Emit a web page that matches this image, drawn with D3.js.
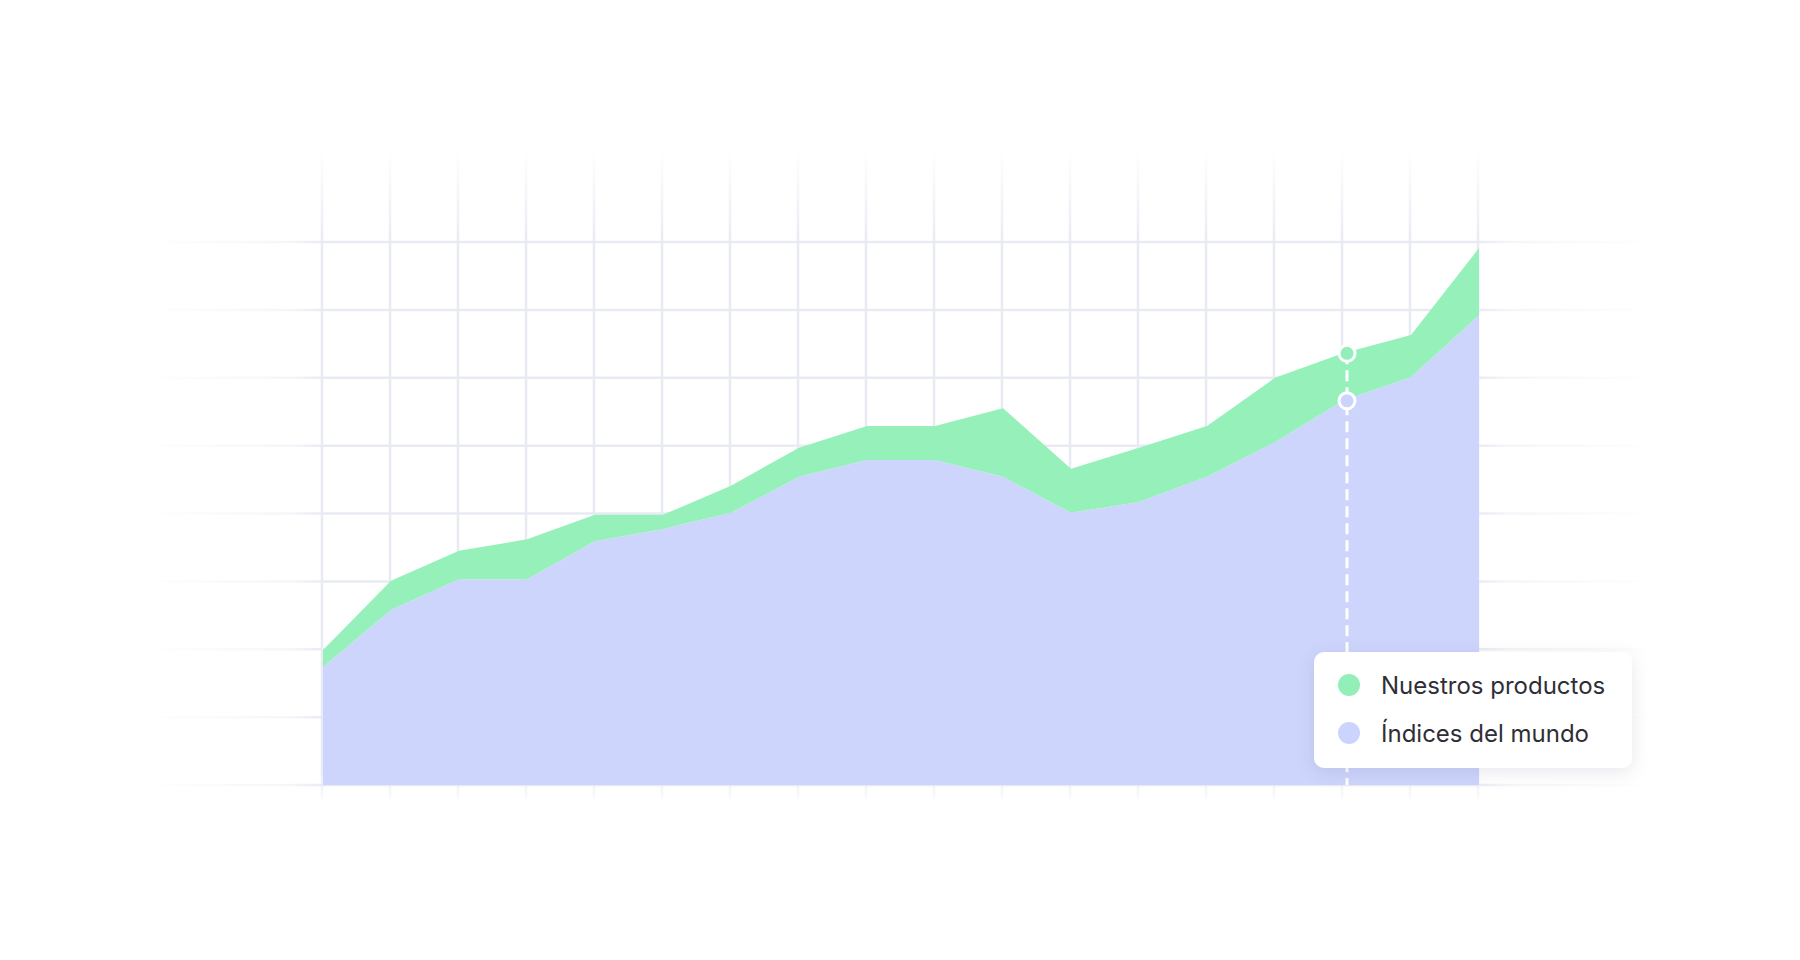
<!DOCTYPE html>
<html>
<head>
<meta charset="utf-8">
<script src="https://cdn.jsdelivr.net/npm/d3@7"></script>
<style>
  body { margin: 0; background: #ffffff; }
  svg { display: block; }
</style>
</head>
<body>
<script>
// Datos
var periodos = ["01", "02", "03", "04", "05", "06", "07", "08", "09",
                "10", "11", "12", "13", "14", "15", "16", "17", "18"];

var indicesMundo = [17.4, 25.8, 30.3, 30.3, 35.9, 37.7, 40.1, 45.4, 47.9,
                    47.9, 45.4, 40.1, 41.7, 45.4, 50.5, 56.6, 60.1, 69.2];

var nuestrosProductos = [2.5, 4.3, 4.2, 5.9, 3.9, 2.1, 4.0, 4.3, 5.0,
                         5.0, 10.1, 6.5, 8.0, 7.5, 9.5, 7.0, 6.2, 9.9];

var ticksY = [0, 10, 20, 30, 40, 50, 60, 70, 80];

var leyenda = ["Nuestros productos", "Índices del mundo"];

var periodoMarcado = "16";

// Objeto con medidas y colores
var vis = {
  width: 1800,
  height: 960,
  left: 323,
  right: 1479,
  top: 242,
  bottom: 785,
  verde: "#93efb8",
  azul: "#cbd4fd",
  rejilla: "#e9ebf4",
  legendaX: 1314,
  legendaY: 652
};

var svg = d3.select("body").append("svg")
  .attr("width", vis.width)
  .attr("height", vis.height);

var defs = svg.append("defs");

// degradado para que la rejilla se desvanezca en los bordes
var fadeX = defs.append("linearGradient")
  .attr("id", "fadeX")
  .attr("gradientUnits", "userSpaceOnUse")
  .attr("x1", 140).attr("x2", 1660).attr("y1", 0).attr("y2", 0);
fadeX.selectAll("stop")
  .data([[0, 0], [0.1, 0.45], [0.12, 1], [0.88, 1], [0.9, 0.45], [1, 0]])
  .enter().append("stop")
  .attr("offset", function(d) { return d[0]; })
  .attr("stop-color", vis.rejilla)
  .attr("stop-opacity", function(d) { return d[1]; });

var fadeY = defs.append("linearGradient")
  .attr("id", "fadeY")
  .attr("gradientUnits", "userSpaceOnUse")
  .attr("x1", 0).attr("x2", 0).attr("y1", 150).attr("y2", 805);
fadeY.selectAll("stop")
  .data([[0, 0], [0.14, 1], [0.95, 1], [1, 0]])
  .enter().append("stop")
  .attr("offset", function(d) { return d[0]; })
  .attr("stop-color", vis.rejilla)
  .attr("stop-opacity", function(d) { return d[1]; });

var sombra = defs.append("filter")
  .attr("id", "sombra")
  .attr("x", "-20%").attr("y", "-30%")
  .attr("width", "140%").attr("height", "160%");
sombra.append("feDropShadow")
  .attr("dx", 0).attr("dy", 4)
  .attr("stdDeviation", 9)
  .attr("flood-color", "#1c2340")
  .attr("flood-opacity", 0.09);

// escalas
var x = d3.scalePoint()
  .domain(periodos)
  .range([vis.left, vis.right]);

var y = d3.scaleLinear()
  .domain([0, 80])
  .range([vis.bottom, vis.top]);

// rejilla
var rejilla = svg.append("g").attr("class", "rejilla");

rejilla.selectAll("line.h")
  .data(ticksY)
  .enter()
  .append("line")
  .attr("class", "h")
  .attr("x1", 140)
  .attr("x2", 1660)
  .attr("y1", function(d) { return y(d); })
  .attr("y2", function(d) { return y(d); })
  .attr("stroke", "url(#fadeX)")
  .attr("stroke-width", 2.5);

rejilla.selectAll("line.v")
  .data(periodos)
  .enter()
  .append("line")
  .attr("class", "v")
  .attr("x1", function(d) { return x(d) - 1; })
  .attr("x2", function(d) { return x(d) - 1; })
  .attr("y1", 150)
  .attr("y2", 805)
  .attr("stroke", "url(#fadeY)")
  .attr("stroke-width", 2.5);

// areas apiladas
var tabla = periodos.map(function(p, i) {
  return { periodo: p, indices: indicesMundo[i], productos: nuestrosProductos[i] };
});

var pila = d3.stack().keys(["indices", "productos"])(tabla);

var area = d3.area()
  .x(function(d) { return x(d.data.periodo); })
  .y0(function(d) { return y(d[0]); })
  .y1(function(d) { return y(d[1]); });

svg.selectAll("path.area")
  .data(pila)
  .enter()
  .append("path")
  .attr("class", "area")
  .attr("d", area)
  .attr("fill", function(d) { return d.key == "indices" ? vis.azul : vis.verde; })
  .attr("fill-opacity", 0.97);

// linea de marcador
var iMarca = periodos.indexOf(periodoMarcado);
var xMarca = x(periodoMarcado) + 4;

svg.append("line")
  .attr("x1", xMarca)
  .attr("x2", xMarca)
  .attr("y1", y(pila[1][iMarca][1]))
  .attr("y2", y(0))
  .attr("stroke", "#ffffff")
  .attr("stroke-width", 3)
  .attr("stroke-dasharray", "11 6");

svg.selectAll("circle.marca")
  .data(pila)
  .enter()
  .append("circle")
  .attr("class", "marca")
  .attr("cx", xMarca)
  .attr("cy", function(d) { return y(d[iMarca][1]); })
  .attr("r", 8)
  .attr("fill", function(d) { return d.key == "indices" ? vis.azul : vis.verde; })
  .attr("stroke", "#ffffff")
  .attr("stroke-width", 3);

// leyenda
var caja = svg.append("g")
  .attr("transform", "translate(" + vis.legendaX + "," + vis.legendaY + ")");

caja.append("rect")
  .attr("width", 318)
  .attr("height", 116)
  .attr("rx", 10)
  .attr("fill", "#ffffff")
  .attr("filter", "url(#sombra)");

var filas = caja.selectAll("g.fila")
  .data(leyenda)
  .enter()
  .append("g")
  .attr("class", "fila")
  .attr("transform", function(d, i) { return "translate(0," + (33 + i * 48) + ")"; });

filas.append("circle")
  .attr("cx", 35)
  .attr("cy", 0)
  .attr("r", 11)
  .attr("fill", function(d, i) { return i == 0 ? vis.verde : vis.azul; });

filas.append("text")
  .text(function(d) { return d; })
  .attr("x", 67)
  .attr("y", 9)
  .attr("font-family", "Inter, 'Noto Sans', sans-serif")
  .attr("font-size", 24)
  .attr("fill", "#2e2f36");
</script>
</body>
</html>
